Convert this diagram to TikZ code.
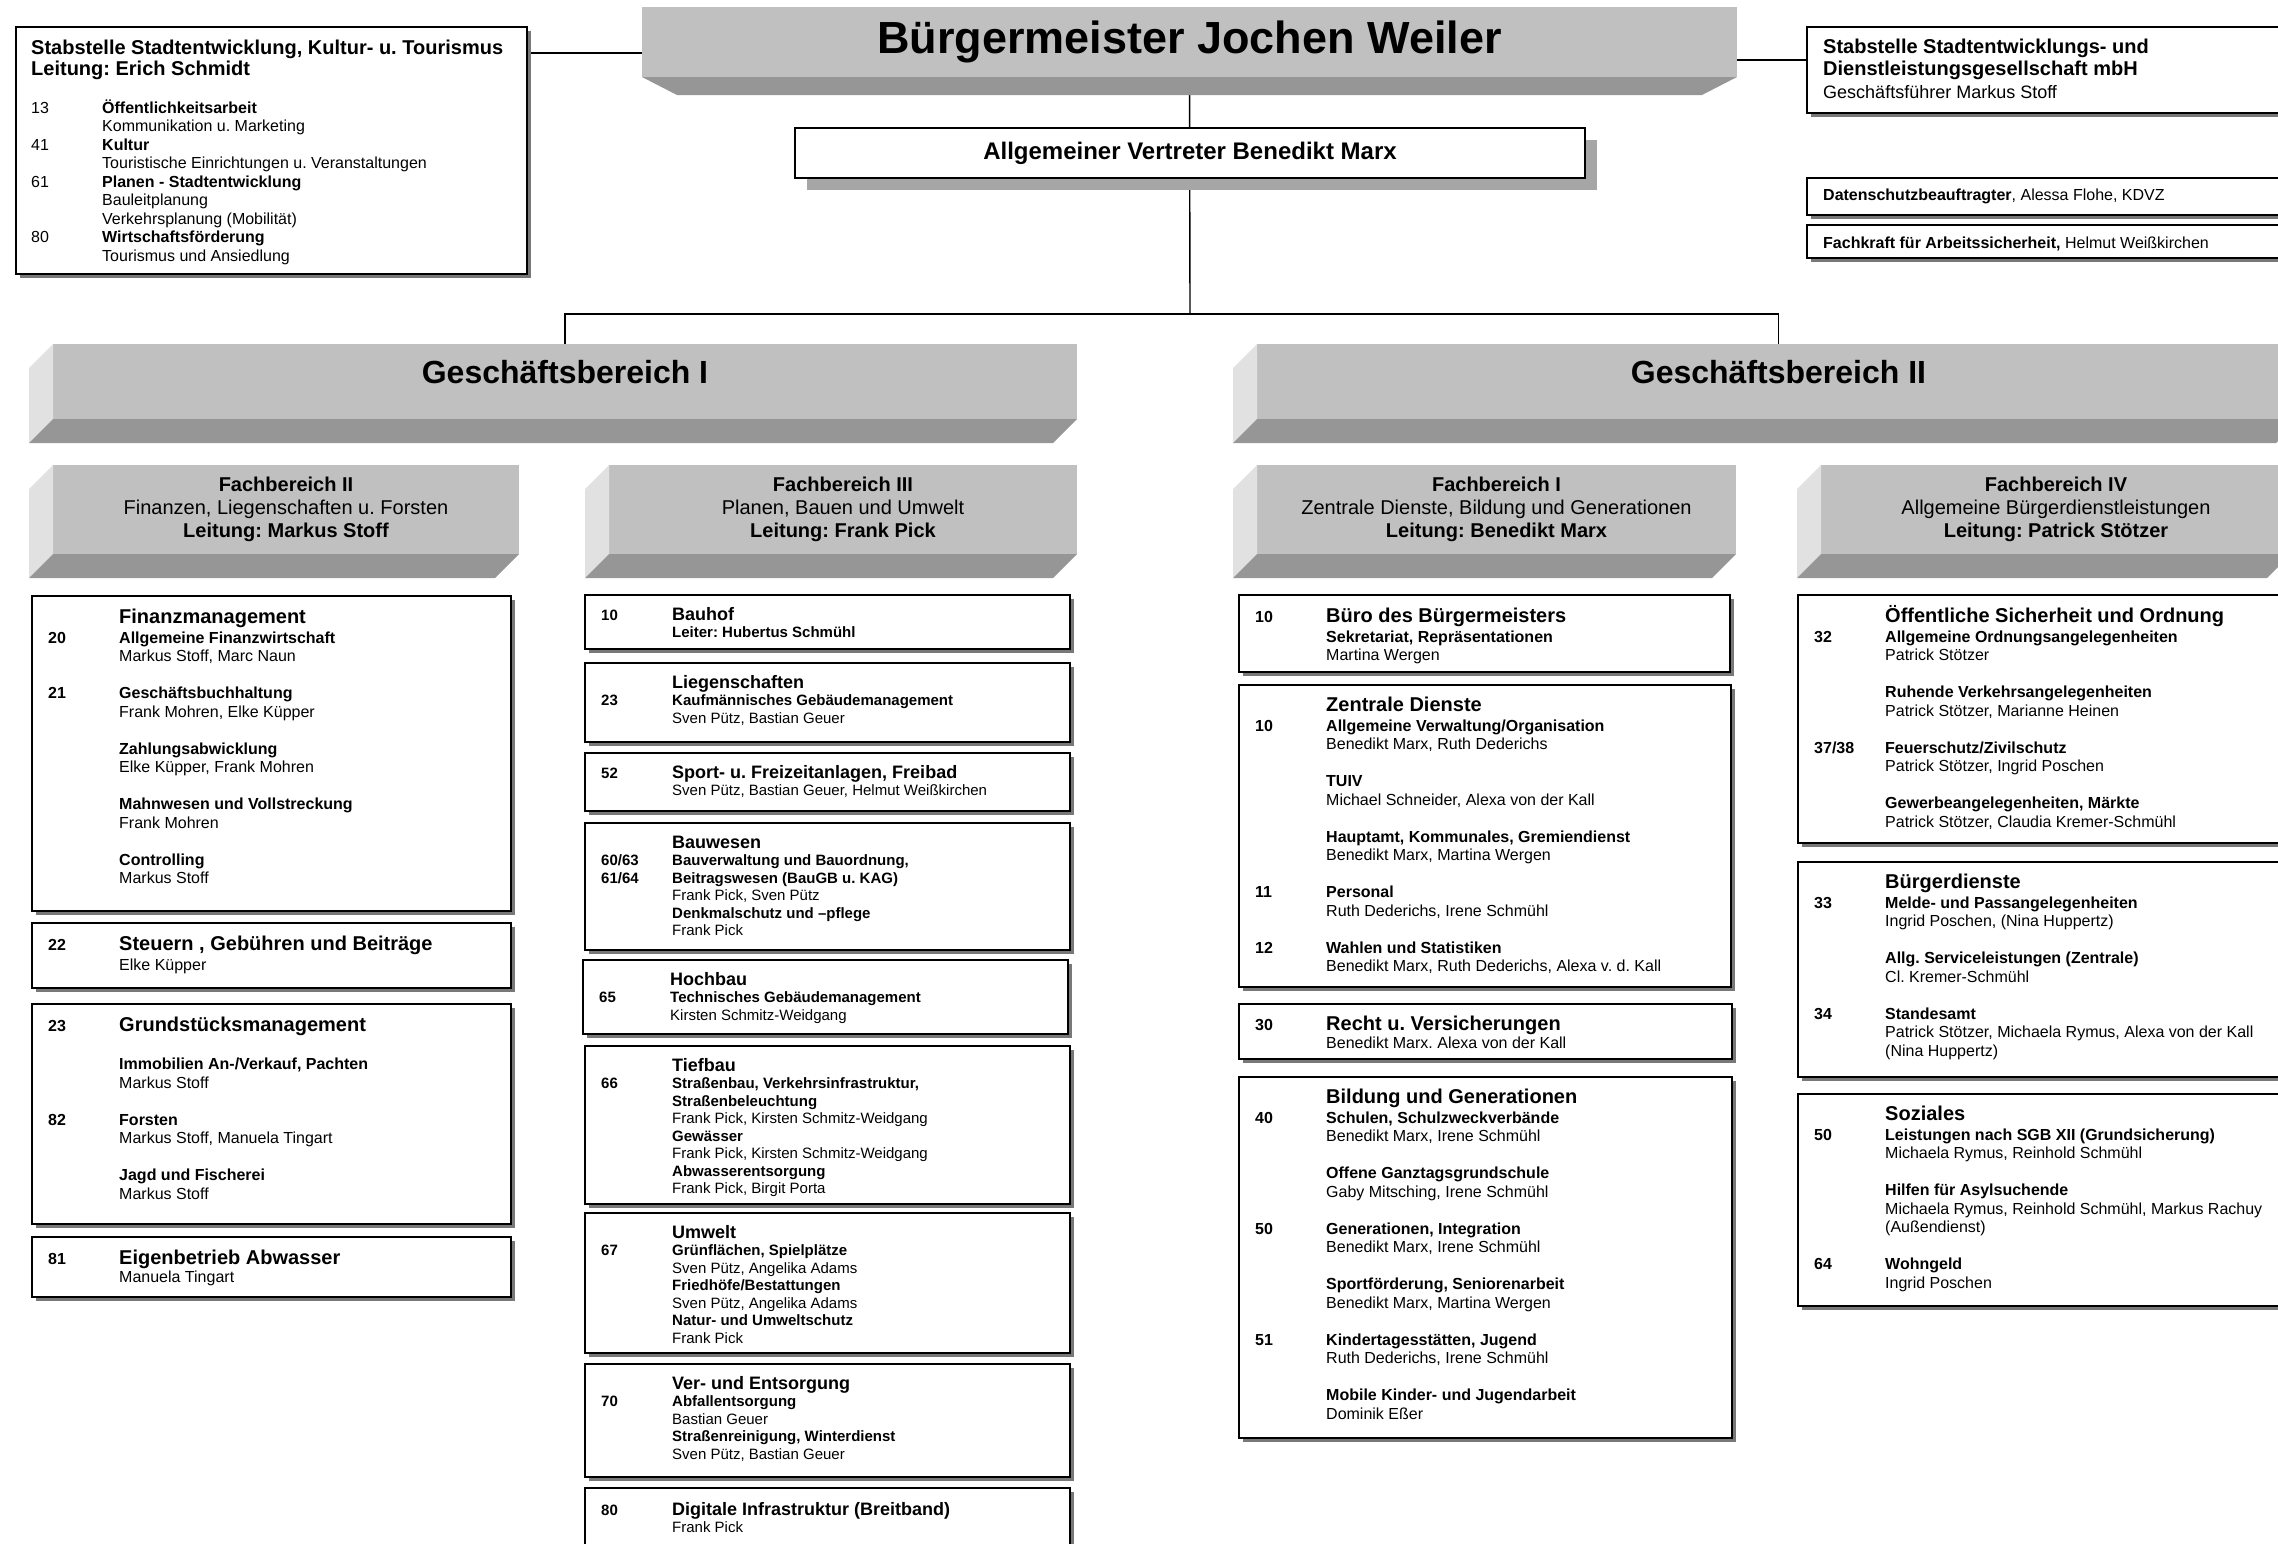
\documentclass[tikz,border=0pt]{standalone}
\usepackage{fontspec}
\setmainfont{Liberation Sans}
\usetikzlibrary{calc,shadows,backgrounds}
\frenchspacing

\definecolor{facegray}{RGB}{192,192,192}
\definecolor{bandgray}{RGB}{150,150,150}
\definecolor{sidegray}{RGB}{225,225,225}
\definecolor{shadowgray}{RGB}{120,120,120}
\definecolor{vertrgray}{RGB}{166,166,166}

% Nummernspalte und Schriften
\newcommand{\nr}[1]{\makebox[71pt][l]{\bfseries #1}}
\newcommand{\nrl}[1]{\makebox[71pt][l]{#1}}
\newcommand{\hdf}{\fontsize{20}{22}\selectfont\bfseries}
\newcommand{\hd}{\hdf\rule{0pt}{19pt}}
\newcommand{\hds}{\fontsize{18}{20}\selectfont\bfseries\rule{0pt}{17pt}}

% Balken mit Schraege links und unten
\newcommand{\bevel}[6]{%
  \node[face, minimum width=#4, minimum height=#5, align=center, font=\fontsize{20}{23}\selectfont] (#1) at (#2,#3) {#6};
  \fill[sidegray] (#1.north west) -- ++(-24,24) -- ($(#1.south west)+(-24,24)$) -- (#1.south west) -- cycle;
  \fill[bandgray] (#1.south west) -- (#1.south east) -- ++(-24,24) -- ($(#1.south west)+(-24,24)$) -- cycle;
}

\tikzset{
  box/.style={draw=black, line width=1.6pt, fill=white, outer sep=0pt, anchor=north west},
  unit/.style={box, drop shadow={shadow xshift=4pt, shadow yshift=-4pt, fill=shadowgray, opacity=1}},
  vertrbox/.style={box, drop shadow={shadow xshift=12pt, shadow yshift=-12pt, fill=vertrgray, opacity=1}},
  unittext/.style={inner sep=0pt, align=left, anchor=north west, font=\fontsize{16}{18.5}\selectfont},
  unittextb/.style={unittext, font=\fontsize{15}{17.5}\selectfont},
  face/.style={fill=facegray, inner sep=0pt, outer sep=0pt, anchor=north west},
  gbtext/.style={inner sep=0pt, font=\fontsize{32}{36}\selectfont\bfseries},
  link/.style={line width=1.4pt, black}
}

\begin{document}
\begin{tikzpicture}[x=1pt, y=-1pt]
  \useasboundingbox (0,0) rectangle (2278,1543);
  \clip (0,0) rectangle (2278,1543);

  %%%%% SPITZE %%%%%
  \node[face, minimum width=1095, minimum height=70, font=\fontsize{45}{50}\selectfont\bfseries] (bgm) at (642,7) {Bürgermeister Jochen Weiler};
  \fill[bandgray] (bgm.south west) -- (bgm.south east) -- ++(-35,18) -- ($(bgm.south west)+(35,18)$) -- cycle;

  \node[vertrbox, minimum width=790, minimum height=50, font=\fontsize{24}{26}\selectfont\bfseries] (vertr) at (795,128) {Allgemeiner Vertreter Benedikt Marx};

  % Stabstelle links
  \node[unit, minimum width=511, minimum height=247] (stab) at (16,27) {};
  \node[unittext] (stab-t) at ([xshift=15pt,yshift=-8pt]stab.north west) {%
    {\hd Stabstelle Stadtentwicklung, Kultur- u. Tourismus}\\[1.5pt]
    {\hdf Leitung: Erich Schmidt}\\[19.5pt]
    \nrl{13}\textbf{Öffentlichkeitsarbeit}\\
    \nrl{}Kommunikation u. Marketing\\
    \nrl{41}\textbf{Kultur}\\
    \nrl{}Touristische Einrichtungen u. Veranstaltungen\\
    \nrl{61}\textbf{Planen - Stadtentwicklung}\\
    \nrl{}Bauleitplanung\\
    \nrl{}Verkehrsplanung (Mobilität)\\
    \nrl{80}\textbf{Wirtschaftsförderung}\\
    \nrl{}Tourismus und Ansiedlung};

  % Stabstellen rechts
  \node[unit, minimum width=500, minimum height=86] (gmbh) at (1807,27) {};
  \node[unittext, font=\fontsize{20}{22.5}\selectfont] (gmbh-t) at ([xshift=16pt,yshift=-7pt]gmbh.north west) {%
    {\hd Stabstelle Stadtentwicklungs- und}\\
    {\hdf Dienstleistungsgesellschaft mbH}\\
    {\fontsize{18}{20}\selectfont Geschäftsführer Markus Stoff}};
  \node[unit, minimum width=500, minimum height=37] (dsb) at (1807,178) {};
  \node[anchor=base west, inner sep=0pt, font=\fontsize{16}{18.5}\selectfont] (dsb-t) at (1823,200) {\textbf{Datenschutzbeauftragter}, Alessa Flohe, KDVZ};
  \node[unit, minimum width=500, minimum height=33] (fasi) at (1807,225) {};
  \node[anchor=base west, inner sep=0pt, font=\fontsize{16}{18.5}\selectfont] (fasi-t) at (1823,248) {\textbf{Fachkraft für Arbeitssicherheit,} Helmut Weißkirchen};

  %%%%% GESCHAEFTSBEREICHE %%%%%
  \bevel{gb1}{53}{344}{1024}{75}{}
  \node[gbtext] (gb1-t) at ([yshift=9pt]gb1.center) {Geschäftsbereich I};
  \bevel{gb2}{1257}{344}{1043}{75}{}
  \node[gbtext] (gb2-t) at ([yshift=9pt]gb2.center) {Geschäftsbereich II};

  \bevel{fb2}{53}{465}{466}{89}{\textbf{Fachbereich II}\\Finanzen, Liegenschaften u. Forsten\\\textbf{Leitung: Markus Stoff}}
  \bevel{fb3}{609}{465}{468}{89}{\textbf{Fachbereich III}\\Planen, Bauen und Umwelt\\\textbf{Leitung: Frank Pick}}
  \bevel{fb1}{1257}{465}{479}{89}{\textbf{Fachbereich I}\\Zentrale Dienste, Bildung und Generationen\\\textbf{Leitung: Benedikt Marx}}
  \bevel{fb4}{1821}{465}{470}{89}{\textbf{Fachbereich IV}\\Allgemeine Bürgerdienstleistungen\\\textbf{Leitung: Patrick Stötzer}}

  %%%%% FACHBEREICH II %%%%%
  \node[unit, minimum width=479, minimum height=315] (fin) at (32,596) {};
  \node[unittext] (fin-t) at ([xshift=16pt,yshift=-8pt]fin.north west) {%
    \nr{}{\hd Finanzmanagement}\\[1.5pt]
    \nr{20}\textbf{Allgemeine Finanzwirtschaft}\\
    \nr{}Markus Stoff, Marc Naun\\[18.5pt]
    \nr{21}\textbf{Geschäftsbuchhaltung}\\
    \nr{}Frank Mohren, Elke Küpper\\[18.5pt]
    \nr{}\textbf{Zahlungsabwicklung}\\
    \nr{}Elke Küpper, Frank Mohren\\[18.5pt]
    \nr{}\textbf{Mahnwesen und Vollstreckung}\\
    \nr{}Frank Mohren\\[18.5pt]
    \nr{}\textbf{Controlling}\\
    \nr{}Markus Stoff};
  \node[unit, minimum width=479, minimum height=65] (steu) at (32,923) {};
  \node[unittext] (steu-t) at ([xshift=16pt,yshift=-8pt]steu.north west) {%
    \nr{22}{\hd Steuern , Gebühren und Beiträge}\\[1.5pt]
    \nr{}Elke Küpper};
  \node[unit, minimum width=479, minimum height=220] (grund) at (32,1004) {};
  \node[unittext] (grund-t) at ([xshift=16pt,yshift=-8pt]grund.north west) {%
    \nr{23}{\hd Grundstücksmanagement}\\[20pt]
    \nr{}\textbf{Immobilien An-/Verkauf, Pachten}\\
    \nr{}Markus Stoff\\[18.5pt]
    \nr{82}\textbf{Forsten}\\
    \nr{}Markus Stoff, Manuela Tingart\\[18.5pt]
    \nr{}\textbf{Jagd und Fischerei}\\
    \nr{}Markus Stoff};
  \node[unit, minimum width=479, minimum height=60] (abw) at (32,1237) {};
  \node[unittext] (abw-t) at ([xshift=16pt,yshift=-8pt]abw.north west) {%
    \nr{81}{\hd Eigenbetrieb Abwasser}\\
    \nr{}Manuela Tingart};

  %%%%% FACHBEREICH III %%%%%
  \node[unit, minimum width=485, minimum height=54] (bauhof) at (585,595) {};
  \node[unittextb] (bauhof-t) at ([xshift=16pt,yshift=-8pt]bauhof.north west) {%
    \nr{10}{\hds Bauhof}\\
    \nr{}\textbf{Leiter: Hubertus Schmühl}};
  \node[unit, minimum width=485, minimum height=79] (lieg) at (585,663) {};
  \node[unittextb] (lieg-t) at ([xshift=16pt,yshift=-8pt]lieg.north west) {%
    \nr{}{\hds Liegenschaften}\\
    \nr{23}\textbf{Kaufmännisches Gebäudemanagement}\\
    \nr{}Sven Pütz, Bastian Geuer};
  \node[unit, minimum width=485, minimum height=58] (sport) at (585,753) {};
  \node[unittextb] (sport-t) at ([xshift=16pt,yshift=-8pt]sport.north west) {%
    \nr{52}{\hds Sport- u. Freizeitanlagen, Freibad}\\
    \nr{}Sven Pütz, Bastian Geuer, Helmut Weißkirchen};
  \node[unit, minimum width=485, minimum height=127] (bauw) at (585,823) {};
  \node[unittextb] (bauw-t) at ([xshift=16pt,yshift=-8pt]bauw.north west) {%
    \nr{}{\hds Bauwesen}\\
    \nr{60/63}\textbf{Bauverwaltung und Bauordnung,}\\
    \nr{61/64}\textbf{Beitragswesen (BauGB u. KAG)}\\
    \nr{}Frank Pick, Sven Pütz\\
    \nr{}\textbf{Denkmalschutz und –pflege}\\
    \nr{}Frank Pick};
  \node[unit, minimum width=485, minimum height=74] (hochb) at (583,960) {};
  \node[unittextb] (hochb-t) at ([xshift=16pt,yshift=-8pt]hochb.north west) {%
    \nr{}{\hds Hochbau}\\
    \nr{65}\textbf{Technisches Gebäudemanagement}\\
    \nr{}Kirsten Schmitz-Weidgang};
  \node[unit, minimum width=485, minimum height=158] (tiefb) at (585,1046) {};
  \node[unittextb] (tiefb-t) at ([xshift=16pt,yshift=-8pt]tiefb.north west) {%
    \nr{}{\hds Tiefbau}\\
    \nr{66}\textbf{Straßenbau, Verkehrsinfrastruktur,}\\
    \nr{}\textbf{Straßenbeleuchtung}\\
    \nr{}Frank Pick, Kirsten Schmitz-Weidgang\\
    \nr{}\textbf{Gewässer}\\
    \nr{}Frank Pick, Kirsten Schmitz-Weidgang\\
    \nr{}\textbf{Abwasserentsorgung}\\
    \nr{}Frank Pick, Birgit Porta};
  \node[unit, minimum width=485, minimum height=140] (umw) at (585,1213) {};
  \node[unittextb] (umw-t) at ([xshift=16pt,yshift=-8pt]umw.north west) {%
    \nr{}{\hds Umwelt}\\
    \nr{67}\textbf{Grünflächen, Spielplätze}\\
    \nr{}Sven Pütz, Angelika Adams\\
    \nr{}\textbf{Friedhöfe/Bestattungen}\\
    \nr{}Sven Pütz, Angelika Adams\\
    \nr{}\textbf{Natur- und Umweltschutz}\\
    \nr{}Frank Pick};
  \node[unit, minimum width=485, minimum height=113] (verent) at (585,1364) {};
  \node[unittextb] (verent-t) at ([xshift=16pt,yshift=-8pt]verent.north west) {%
    \nr{}{\hds Ver- und Entsorgung}\\
    \nr{70}\textbf{Abfallentsorgung}\\
    \nr{}Bastian Geuer\\
    \nr{}\textbf{Straßenreinigung, Winterdienst}\\
    \nr{}Sven Pütz, Bastian Geuer};
  \node[unit, minimum width=485, minimum height=80] (digi) at (585,1488) {};
  \node[unittextb] (digi-t) at ([xshift=16pt,yshift=-10pt]digi.north west) {%
    \nr{80}{\hds Digitale Infrastruktur (Breitband)}\\
    \nr{}Frank Pick};

  %%%%% FACHBEREICH I %%%%%
  \node[unit, minimum width=491, minimum height=77] (buero) at (1239,595) {};
  \node[unittext] (buero-t) at ([xshift=16pt,yshift=-8pt]buero.north west) {%
    \nr{10}{\hd Büro des Bürgermeisters}\\[1.5pt]
    \nr{}\textbf{Sekretariat, Repräsentationen}\\
    \nr{}Martina Wergen};
  \node[unit, minimum width=492, minimum height=302] (zentr) at (1239,685) {};
  \node[unittext] (zentr-t) at ([xshift=16pt,yshift=-7pt]zentr.north west) {%
    \nr{}{\hd Zentrale Dienste}\\[1.5pt]
    \nr{10}\textbf{Allgemeine Verwaltung/Organisation}\\
    \nr{}Benedikt Marx, Ruth Dederichs\\[18.5pt]
    \nr{}\textbf{TUIV}\\
    \nr{}Michael Schneider, Alexa von der Kall\\[18.5pt]
    \nr{}\textbf{Hauptamt, Kommunales, Gremiendienst}\\
    \nr{}Benedikt Marx, Martina Wergen\\[18.5pt]
    \nr{11}\textbf{Personal}\\
    \nr{}Ruth Dederichs, Irene Schmühl\\[18.5pt]
    \nr{12}\textbf{Wahlen und Statistiken}\\
    \nr{}Benedikt Marx, Ruth Dederichs, Alexa v. d. Kall};
  \node[unit, minimum width=493, minimum height=55] (recht) at (1239,1004) {};
  \node[unittext] (recht-t) at ([xshift=16pt,yshift=-7pt]recht.north west) {%
    \nr{30}{\hd Recht u. Versicherungen}\\
    \nr{}Benedikt Marx. Alexa von der Kall};
  \node[unit, minimum width=493, minimum height=361] (bild) at (1239,1077) {};
  \node[unittext] (bild-t) at ([xshift=16pt,yshift=-7pt]bild.north west) {%
    \nr{}{\hd Bildung und Generationen}\\[1.5pt]
    \nr{40}\textbf{Schulen, Schulzweckverbände}\\
    \nr{}Benedikt Marx, Irene Schmühl\\[18.5pt]
    \nr{}\textbf{Offene Ganztagsgrundschule}\\
    \nr{}Gaby Mitsching, Irene Schmühl\\[18.5pt]
    \nr{50}\textbf{Generationen, Integration}\\
    \nr{}Benedikt Marx, Irene Schmühl\\[18.5pt]
    \nr{}\textbf{Sportförderung, Seniorenarbeit}\\
    \nr{}Benedikt Marx, Martina Wergen\\[18.5pt]
    \nr{51}\textbf{Kindertagesstätten, Jugend}\\
    \nr{}Ruth Dederichs, Irene Schmühl\\[18.5pt]
    \nr{}\textbf{Mobile Kinder- und Jugendarbeit}\\
    \nr{}Dominik Eßer};

  %%%%% FACHBEREICH IV %%%%%
  \node[unit, minimum width=520, minimum height=248] (oeff) at (1798,595) {};
  \node[unittext] (oeff-t) at ([xshift=16pt,yshift=-8pt]oeff.north west) {%
    \nr{}{\hd Öffentliche Sicherheit und Ordnung}\\[1.5pt]
    \nr{32}\textbf{Allgemeine Ordnungsangelegenheiten}\\
    \nr{}Patrick Stötzer\\[18.5pt]
    \nr{}\textbf{Ruhende Verkehrsangelegenheiten}\\
    \nr{}Patrick Stötzer, Marianne Heinen\\[18.5pt]
    \nr{37/38}\textbf{Feuerschutz/Zivilschutz}\\
    \nr{}Patrick Stötzer, Ingrid Poschen\\[18.5pt]
    \nr{}\textbf{Gewerbeangelegenheiten, Märkte}\\
    \nr{}Patrick Stötzer, Claudia Kremer-Schmühl};
  \node[unit, minimum width=520, minimum height=215] (buergd) at (1798,862) {};
  \node[unittext] (buergd-t) at ([xshift=16pt,yshift=-7pt]buergd.north west) {%
    \nr{}{\hd Bürgerdienste}\\[1.5pt]
    \nr{33}\textbf{Melde- und Passangelegenheiten}\\
    \nr{}Ingrid Poschen, (Nina Huppertz)\\[18.5pt]
    \nr{}\textbf{Allg. Serviceleistungen (Zentrale)}\\
    \nr{}Cl. Kremer-Schmühl\\[18.5pt]
    \nr{34}\textbf{Standesamt}\\
    \nr{}Patrick Stötzer, Michaela Rymus, Alexa von der Kall\\
    \nr{}(Nina Huppertz)};
  \node[unit, minimum width=520, minimum height=212] (soz) at (1798,1094) {};
  \node[unittext] (soz-t) at ([xshift=16pt,yshift=-7pt]soz.north west) {%
    \nr{}{\hd Soziales}\\[1.5pt]
    \nr{50}\textbf{Leistungen nach SGB XII (Grundsicherung)}\\
    \nr{}Michaela Rymus, Reinhold Schmühl\\[18.5pt]
    \nr{}\textbf{Hilfen für Asylsuchende}\\
    \nr{}Michaela Rymus, Reinhold Schmühl, Markus Rachuy\\
    \nr{}(Außendienst)\\[18.5pt]
    \nr{64}\textbf{Wohngeld}\\
    \nr{}Ingrid Poschen};

  %%%%% LINIEN %%%%%
  \coordinate (bus) at (1190,314);
  \coordinate (stabl) at (527,53);
  \coordinate (gmbhl) at (1807,60);
  \begin{scope}[on background layer]
    \draw[link] (bgm.south) -- (bus);
    \draw[link] (gb1.north) |- (bus) -| (gb2.north);
    \draw[link] (stabl) -- (stabl -| bgm.west);
    \draw[link] (bgm.east |- gmbhl) -- (gmbhl);
  \end{scope}
\end{tikzpicture}
\end{document}
